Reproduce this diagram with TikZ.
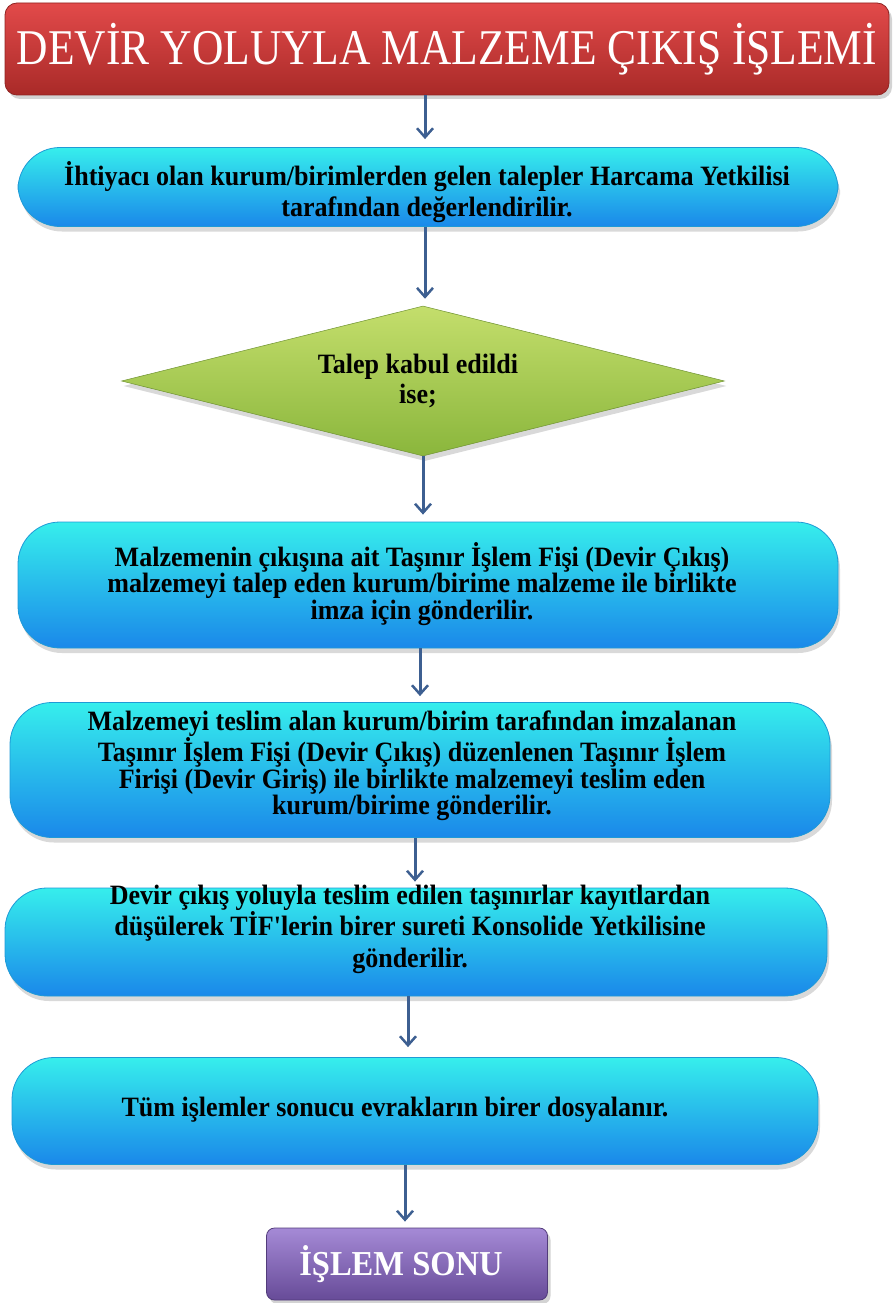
\documentclass[tikz,border=0pt]{standalone}
\usepackage{fontspec}
\setmainfont{Liberation Serif}
\newfontfamily\titlefont[FakeStretch=0.87]{Liberation Serif}
\newfontfamily\bodyfont[FakeStretch=0.93]{Liberation Serif}
\usetikzlibrary{arrows.meta,shadows,shapes.geometric}
\definecolor{arrowblue}{HTML}{3D5F91}
\definecolor{redtop}{HTML}{E24A4A}
\definecolor{redbot}{HTML}{A92A28}
\definecolor{cyantop}{HTML}{36EEEC}
\definecolor{cyanbot}{HTML}{1A88EA}
\definecolor{cyanedge}{HTML}{1F9AD6}
\definecolor{greentop}{HTML}{C4DE6C}
\definecolor{greenbot}{HTML}{8AB63C}
\definecolor{purptop}{HTML}{A58AD6}
\definecolor{purpbot}{HTML}{674B98}
\tikzset{
  titlebox/.style={rectangle, rounded corners=12pt, top color=redtop, bottom color=redbot,
    draw=redbot!85!black, line width=0.8pt, drop shadow={shadow xshift=3pt, shadow yshift=-4pt, opacity=0.35},
    text=white, font=\titlefont\fontsize{50}{56}\selectfont},
  procbox/.style={rectangle, rounded corners=42pt, top color=cyantop, bottom color=cyanbot,
    draw=cyanedge, line width=0.8pt, drop shadow={shadow xshift=2pt, shadow yshift=-5pt, opacity=0.3},
    inner sep=0pt},
  boxtext/.style={align=center, font=\bodyfont\bfseries\fontsize{28}{26.5}\selectfont, inner sep=0pt},
  widetext/.style={boxtext, font=\bodyfont\bfseries\fontsize{28}{31.5}\selectfont},
  decbox/.style={diamond, top color=greentop, bottom color=greenbot, draw=greenbot!80!black, line width=0.5pt,
    drop shadow={shadow xshift=2pt, shadow yshift=-5pt, opacity=0.3}, inner sep=0pt},
  endbox/.style={rectangle, rounded corners=8pt, top color=purptop, bottom color=purpbot,
    draw=purpbot!80!black, line width=0.8pt, drop shadow={shadow xshift=3pt, shadow yshift=-4pt, opacity=0.35},
    inner sep=0pt},
  flow/.style={draw=arrowblue, line width=3pt, -{Straight Barb[length=9pt,width=16pt,line width=2.5pt]}}
}
\begin{document}
\begin{tikzpicture}[x=1pt,y=-1pt]
\useasboundingbox (0,0) rectangle (892,1303);
\node[titlebox, minimum width=884pt, minimum height=92pt] (title) at (447,49) {DEVİR YOLUYLA MALZEME ÇIKIŞ İŞLEMİ};
\node[procbox, minimum width=820pt, minimum height=79pt,
  label={[widetext, xshift=-1pt, yshift=-5pt]center:{İhtiyacı olan kurum/birimlerden gelen talepler Harcama Yetkilisi\\ tarafından değerlendirilir.}}] (b1) at (428,187) {};
\node[decbox, minimum width=603pt, minimum height=150pt,
  label={[boxtext, font=\bodyfont\bfseries\fontsize{28}{30}\selectfont, xshift=-5pt, yshift=0pt]center:{Talep kabul edildi\\ ise;}}] (d1) at (423,381) {};
\node[procbox, minimum width=820pt, minimum height=126pt,
  label={[boxtext, xshift=-6pt, yshift=1pt]center:{Malzemenin çıkışına ait Taşınır İşlem Fişi (Devir Çıkış)\\ malzemeyi talep eden kurum/birime malzeme ile birlikte\\ imza için gönderilir.}}] (b2) at (428,585) {};
\node[procbox, minimum width=820pt, minimum height=135pt,
  label={[boxtext, xshift=-8pt, yshift=4pt]center:{Malzemeyi teslim alan kurum/birim tarafından imzalanan\\ Taşınır İşlem Fişi (Devir Çıkış) düzenlenen Taşınır İşlem\\ Firişi (Devir Giriş) ile birlikte malzemeyi teslim eden\\ kurum/birime gönderilir.}}] (b3) at (420,770) {};
\node[procbox, minimum width=822pt, minimum height=108pt,
  label={[widetext, xshift=-6pt, yshift=13pt]center:{Devir çıkış yoluyla teslim edilen taşınırlar kayıtlardan\\ düşülerek TİF'lerin birer sureti Konsolide Yetkilisine\\ gönderilir.}}] (b4) at (416,942) {};
\node[procbox, minimum width=806pt, minimum height=107pt,
  label={[boxtext, xshift=-20pt, yshift=1pt]center:{Tüm işlemler sonucu evrakların birer dosyalanır.}}] (b5) at (415,1111) {};
\node[endbox, minimum width=281pt, minimum height=72pt,
  label={[text=white, font=\bodyfont\bfseries\fontsize{35}{40}\selectfont, inner sep=0pt, xshift=-6pt, yshift=0pt]center:İŞLEM SONU}] (e) at (407,1264) {};
\draw[flow] ([xshift=-22pt]title.south) -- ([xshift=-3pt,yshift=8pt]b1.north);
\draw[flow] ([xshift=-3pt]b1.south) -- ([xshift=2pt,yshift=7pt]d1.north);
\draw[flow] (d1.south) -- ([xshift=-5pt,yshift=7pt]b2.north);
\draw[flow] ([xshift=-8pt]b2.south) -- ([xshift=0pt,yshift=6pt]b3.north);
\draw[flow] ([xshift=-5pt]b3.south) -- ([xshift=-1pt,yshift=6pt]b4.north);
\draw[flow] ([xshift=-8pt]b4.south) -- ([xshift=-7pt,yshift=10pt]b5.north);
\draw[flow] ([xshift=-10pt]b5.south) -- ([xshift=-2pt,yshift=6pt]e.north);
\end{tikzpicture}
\end{document}
